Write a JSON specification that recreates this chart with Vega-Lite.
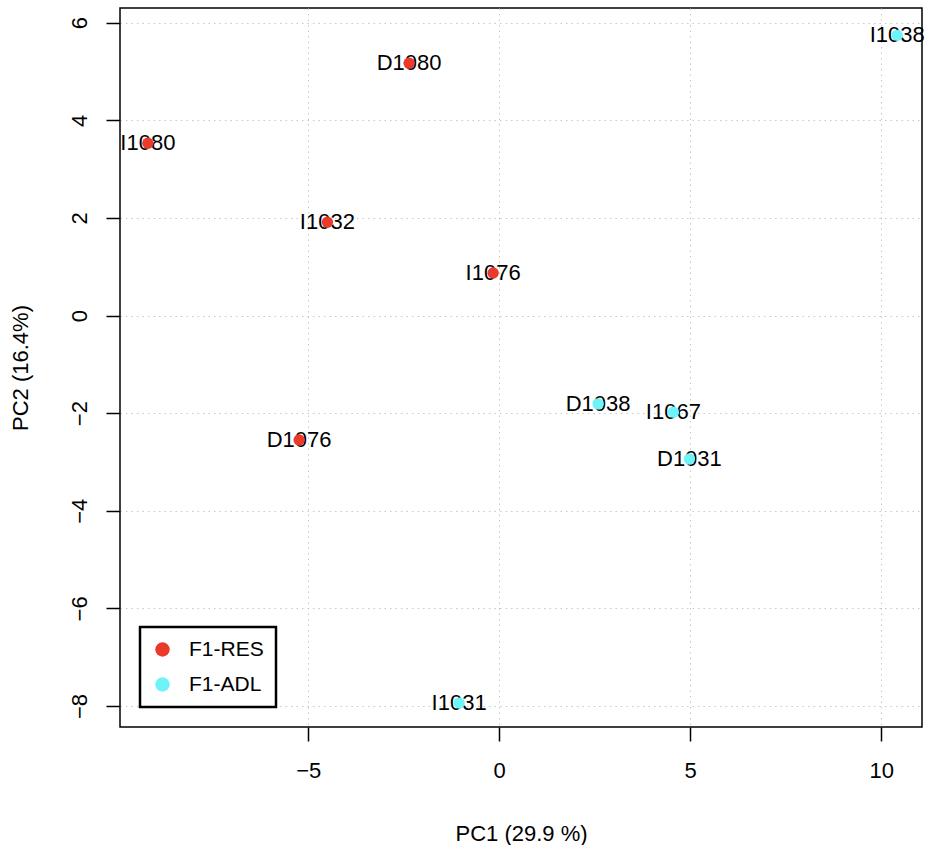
{
  "$schema": "https://vega.github.io/schema/vega-lite/v6.json",
  "width": 802,
  "height": 719,
  "autosize": {"type": "none"},
  "padding": {"left": 120, "top": 8, "right": 4, "bottom": 118},
  "background": "white",
  "data": {"values": [
    {"sample": "I1080", "group": "F1-RES", "PC1": -9.2, "PC2": 3.53},
    {"sample": "D1080", "group": "F1-RES", "PC1": -2.36, "PC2": 5.17},
    {"sample": "I1032", "group": "F1-RES", "PC1": -4.5, "PC2": 1.91},
    {"sample": "I1076", "group": "F1-RES", "PC1": -0.16, "PC2": 0.87},
    {"sample": "D1076", "group": "F1-RES", "PC1": -5.24, "PC2": -2.55},
    {"sample": "I1038", "group": "F1-ADL", "PC1": 10.42, "PC2": 5.74},
    {"sample": "D1038", "group": "F1-ADL", "PC1": 2.59, "PC2": -1.81},
    {"sample": "I1067", "group": "F1-ADL", "PC1": 4.56, "PC2": -1.98},
    {"sample": "D1031", "group": "F1-ADL", "PC1": 4.98, "PC2": -2.94},
    {"sample": "I1031", "group": "F1-ADL", "PC1": -1.05, "PC2": -7.94}
  ]},
  "encoding": {
    "x": {"field": "PC1", "type": "quantitative",
      "scale": {"domain": [-9.93, 11.07], "nice": false, "zero": false},
      "axis": {"title": "PC1 (29.9 %)", "values": [-5, 0, 5, 10], "labelPadding": 19, "titlePadding": 42}},
    "y": {"field": "PC2", "type": "quantitative",
      "scale": {"domain": [-8.43, 6.3], "nice": false, "zero": false},
      "axis": {"title": "PC2 (16.4%)", "values": [-8, -6, -4, -2, 0, 2, 4, 6], "labelAngle": 270, "labelAlign": "center", "labelBaseline": "bottom", "labelPadding": 15, "titlePadding": 36}}
  },
  "layer": [
    {"mark": {"type": "text", "font": "Liberation Sans", "fontSize": 22, "color": "black", "align": "center", "baseline": "middle"},
     "encoding": {"text": {"field": "sample"}}},
    {"mark": {"type": "point", "filled": true, "opacity": 1, "shape": "circle", "size": 130},
     "encoding": {"color": {"field": "group", "type": "nominal",
       "scale": {"domain": ["F1-RES", "F1-ADL"], "range": ["#EA3A2A", "#6EF4F8"]},
       "legend": {"title": null, "orient": "bottom-left", "offset": 20, "strokeColor": "black", "padding": 12, "symbolSize": 210, "labelFontSize": 21, "rowPadding": 13, "labelOffset": 16}}}}
  ],
  "config": {
    "view": {"stroke": "black", "strokeWidth": 1.5},
    "font": "Liberation Sans",
    "axis": {
      "domain": false,
      "ticks": true, "tickColor": "black", "tickSize": 14, "tickWidth": 1.5,
      "grid": true, "gridColor": "#c8c8c8", "gridDash": [1.5, 4], "gridWidth": 1,
      "labelFont": "Liberation Sans", "labelFontSize": 22, "labelColor": "black",
      "titleFont": "Liberation Sans", "titleFontSize": 22, "titleFontWeight": "normal", "titleColor": "black"
    },
    "legend": {"labelFont": "Liberation Sans", "labelColor": "black", "strokeWidth": 2.5}
  }
}
